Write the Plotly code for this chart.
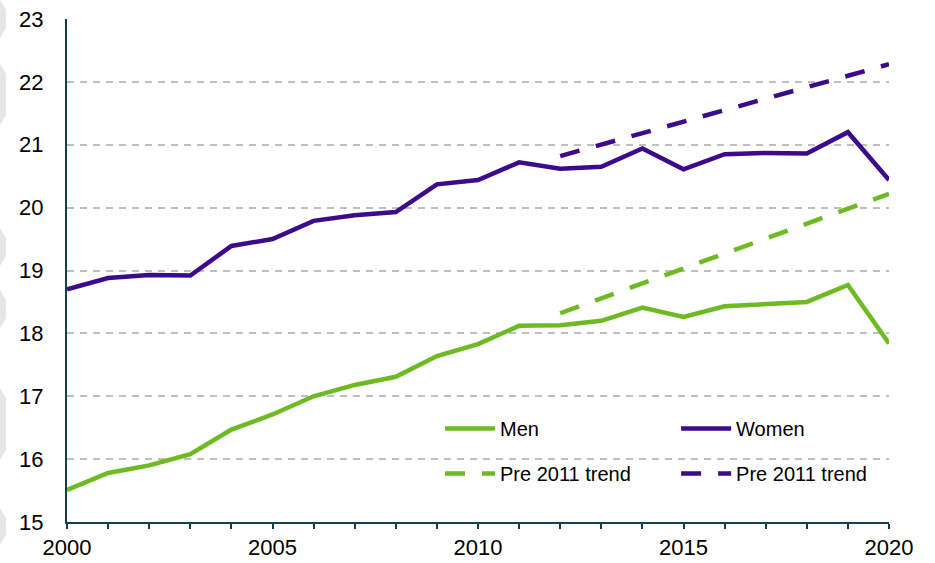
import plotly.graph_objects as go

years = list(range(2000, 2021))
men = [15.51, 15.78, 15.90, 16.08, 16.47, 16.71, 17.00, 17.18, 17.31, 17.64, 17.83,
       18.12, 18.13, 18.20, 18.41, 18.26, 18.43, 18.47, 18.50, 18.77, 17.84]
women = [18.70, 18.88, 18.93, 18.92, 19.39, 19.50, 19.79, 19.88, 19.93, 20.37, 20.44,
         20.72, 20.62, 20.65, 20.94, 20.61, 20.85, 20.87, 20.86, 21.20, 20.44]
trend_years = [2012, 2020]
men_trend = [18.32, 20.22]
women_trend = [20.82, 22.28]
x_tick_labels = [2000, 2005, 2010, 2015, 2020]

GREEN = "#6dba22"
PURPLE = "#3c0a8a"
AXIS = "#123f4f"
FONT = "Liberation Sans, Arial, sans-serif"
LW = 4.5

fig = go.Figure()
fig.add_trace(go.Scatter(x=years, y=men, mode="lines", name="Men",
                         line=dict(color=GREEN, width=LW), legend="legend", legendgroup="a"))
fig.add_trace(go.Scatter(x=trend_years, y=men_trend, mode="lines", name="Pre 2011 trend",
                         line=dict(color=GREEN, width=LW, dash="20px,17px"), legend="legend",
                         legendgroup="b"))
fig.add_trace(go.Scatter(x=years, y=women, mode="lines", name="Women",
                         line=dict(color=PURPLE, width=LW), legend="legend2", legendgroup="c"))
fig.add_trace(go.Scatter(x=trend_years, y=women_trend, mode="lines", name="Pre 2011 trend",
                         line=dict(color=PURPLE, width=LW, dash="20px,17px"), legend="legend2",
                         legendgroup="d"))

legend_common = dict(orientation="v", bgcolor="rgba(0,0,0,0)", borderwidth=0,
                     font=dict(family=FONT, size=20, color="#000000"),
                     tracegroupgap=16, itemwidth=50, xanchor="left", yanchor="top",
                     traceorder="grouped")

# light grey decorative chevrons at the far left edge (paper coords)
def px_x(p):
    return (p - 67) / 822

def px_y(p):
    return (522 - p) / 503

chevrons = [(0, 38), (64, 125), (228, 266), (290, 328), (388, 460), (508, 545)]
shapes = []
for y0, y1 in chevrons:
    path = (f"M{px_x(0)},{px_y(y0)} L{px_x(6)},{px_y(y0 + 10)} "
            f"L{px_x(6)},{px_y(y1 - 10)} L{px_x(0)},{px_y(y1)} Z")
    shapes.append(dict(type="path", path=path, xref="paper", yref="paper",
                       fillcolor="#e6e6e6", line=dict(width=0), layer="below"))

fig.update_layout(
    width=935, height=563,
    margin=dict(l=67, r=46, t=19, b=41),
    paper_bgcolor="white", plot_bgcolor="white",
    font=dict(family=FONT, size=22, color="#000000"),
    showlegend=True,
    shapes=shapes,
    legend=dict(x=0.4538, y=0.2247, **legend_common),
    legend2=dict(x=0.741, y=0.2247, **legend_common),
    xaxis=dict(range=[2000, 2020], tickvals=x_tick_labels,
               showgrid=False, zeroline=False, automargin=False,
               showline=True, linecolor=AXIS, linewidth=2,
               ticks="outside", ticklen=5, tickwidth=2, tickcolor=AXIS,
               minor=dict(dtick=1, tick0=2000, ticks="outside", ticklen=5,
                          tickwidth=2, tickcolor=AXIS, showgrid=False),
               tickfont=dict(size=22), ticklabelstandoff=0),
    yaxis=dict(range=[15, 23], dtick=1, showgrid=True, gridcolor="#bfbfbf",
               griddash="7px,6px", gridwidth=2, zeroline=False, automargin=False,
               showline=True, linecolor=AXIS, linewidth=2,
               ticks="", tickfont=dict(size=22), ticklabelstandoff=17),
)

fig.write_html("out.html", config={"displayModeBar": False},
               post_script="document.body.style.margin='0';")
